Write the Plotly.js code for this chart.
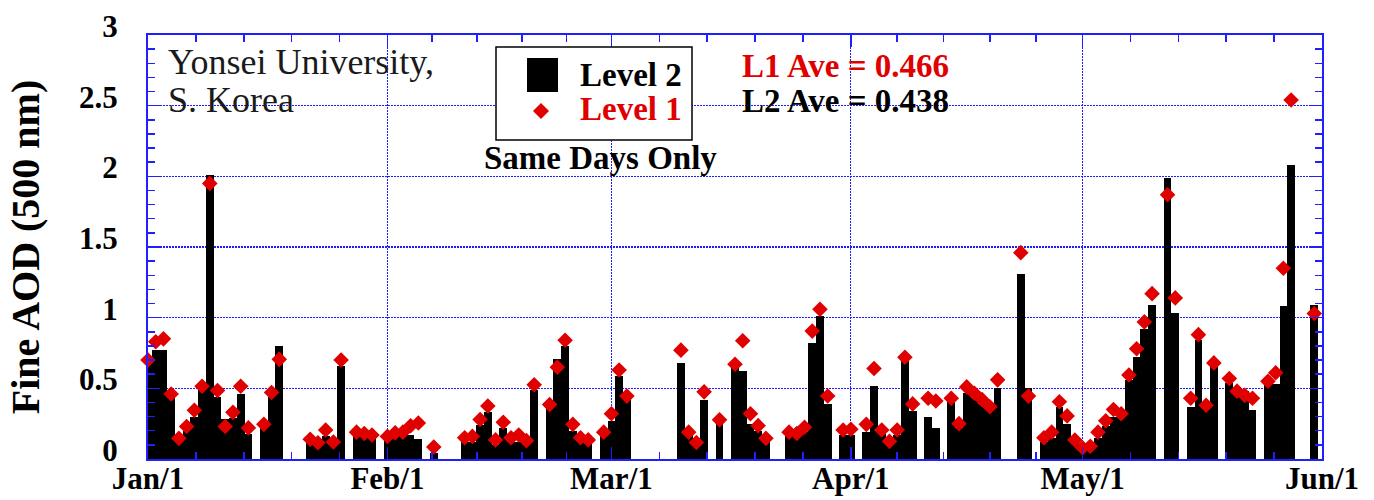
<!DOCTYPE html>
<html>
<head>
<meta charset="utf-8">
<script src="https://cdn.plot.ly/plotly-3.0.1.min.js"></script>
<style>html,body{margin:0;padding:0;background:#fff}</style>
</head>
<body>
<div id="chart" style="width:1374px;height:500px"></div>
<script>
// Daily fine-mode AOD at 500 nm, Yonsei University (2004), days with both levels
const year = '2004';
const dates = [
  '01-01','01-02','01-03','01-04','01-05','01-06','01-07','01-08','01-09','01-10',
  '01-11','01-12','01-13','01-14','01-16','01-17','01-18','01-22','01-23','01-24',
  '01-25','01-26','01-28','01-29','01-30',
  '02-01','02-02','02-03','02-04','02-05','02-07','02-11','02-12','02-13','02-14',
  '02-15','02-16','02-17','02-18','02-19','02-20','02-22','02-23','02-24','02-25',
  '02-26','02-27','02-29',
  '03-01','03-02','03-03','03-10','03-11','03-12','03-13','03-15','03-17','03-18',
  '03-19','03-20','03-21','03-24','03-25','03-26','03-27','03-28','03-29','03-31',
  '04-01','04-03','04-04','04-05','04-06','04-07','04-08','04-09','04-11','04-12',
  '04-14','04-15','04-16','04-17','04-18','04-19','04-20','04-23','04-24','04-26',
  '04-27','04-28','04-29','04-30',
  '05-01','05-02','05-03','05-04','05-05','05-06','05-07','05-08','05-09','05-10',
  '05-12','05-13','05-15','05-16','05-17','05-18','05-20','05-21','05-22','05-23',
  '05-25','05-26','05-27','05-28','05-31'
];
const level2 = [
  0.68,0.77,0.77,0.44,0.13,0.20,0.30,0.49,2.01,0.44,
  0.28,0.29,0.46,0.18,0.23,0.44,0.80,0.11,0.11,0.16,
  0.11,0.66,0.17,0.16,0.16,
  0.15,0.16,0.16,0.17,0.14,0.04,0.12,0.12,0.24,0.33,
  0.10,0.22,0.12,0.12,0.12,0.49,0.37,0.71,0.80,0.20,
  0.15,0.14,0.16,
  0.27,0.59,0.43,0.68,0.17,0.10,0.42,0.25,0.665,0.62,
  0.25,0.20,0.14,0.16,0.16,0.19,0.82,1.01,0.39,0.17,
  0.17,0.19,0.52,0.18,0.11,0.17,0.69,0.34,0.295,0.22,
  0.42,0.22,0.47,0.43,0.39,0.35,0.50,1.31,0.505,0.12,
  0.15,0.37,0.25,0.11,
  0.07,0.07,0.15,0.23,0.30,0.30,0.56,0.72,0.92,1.09,
  1.99,1.035,0.365,0.84,0.36,0.65,0.535,0.49,0.48,0.35,
  0.53,0.53,1.08,2.08,1.09
];
const level1 = [
  0.70,0.83,0.85,0.46,0.146,0.23,0.345,0.515,1.95,0.485,
  0.23,0.33,0.515,0.22,0.245,0.47,0.705,0.14,0.115,0.205,
  0.12,0.70,0.19,0.18,0.17,
  0.16,0.185,0.19,0.235,0.255,0.085,0.15,0.16,0.28,0.375,
  0.135,0.26,0.15,0.17,0.13,0.525,0.385,0.65,0.84,0.245,
  0.15,0.135,0.19,
  0.32,0.63,0.445,0.77,0.19,0.117,0.475,0.277,0.67,0.837,
  0.32,0.236,0.146,0.19,0.18,0.225,0.905,1.06,0.446,0.205,
  0.21,0.245,0.64,0.205,0.125,0.205,0.72,0.39,0.43,0.41,
  0.43,0.25,0.51,0.465,0.42,0.37,0.56,1.46,0.445,0.15,
  0.19,0.405,0.305,0.134,
  0.08,0.09,0.19,0.27,0.35,0.32,0.594,0.78,0.97,1.17,
  1.87,1.14,0.43,0.88,0.38,0.68,0.57,0.48,0.45,0.43,
  0.55,0.61,1.35,2.54,1.03
];
const monthStarts = ['01-01','02-01','03-01','04-01','05-01','06-01'];
const monthLabels = ['Jan/1','Feb/1','Mar/1','Apr/1','May/1','Jun/1'];
const yTickVals = [0, 0.5, 1, 1.5, 2, 2.5, 3];
const yTickText = ['0', '0.5', '1', '1.5', '2', '2.5', '3'];

const DAY = 86400000;
const xDates = dates.map(d => year + '-' + d);
const monthDates = monthStarts.map(d => year + '-' + d);

// four minor ticks splitting each month into fifths
const toMs = s => Date.parse(s + 'T00:00:00Z');
const fmt = ms => new Date(ms).toISOString().replace('T', ' ').replace('Z', '');
const minorX = [];
for (let i = 0; i < monthDates.length - 1; i++) {
  const a = toMs(monthDates[i]), b = toMs(monthDates[i + 1]);
  for (let k = 1; k < 5; k++) minorX.push(fmt(a + k * (b - a) / 5));
}

// plot frame in pixels, used to place the inset texts and key
const W = 1374, H = 500;
const M = {l: 148, r: 52, t: 35, b: 41};
const pw = W - M.l - M.r, ph = H - M.t - M.b;
const px = x => (x - M.l) / pw;
const py = y => (H - M.b - y) / ph;

const BLUE = '#1f1fff';
const GRID = '#1c1cff';
const RED = '#e00000';
const SERIF = 'Liberation Serif, Times New Roman, serif';

const bars = {
  type: 'bar', x: xDates, y: level2, width: DAY,
  marker: {color: '#000', line: {width: 0}},
  hoverinfo: 'x+y', showlegend: false
};
const pts = {
  type: 'scatter', mode: 'markers', x: xDates, y: level1,
  marker: {symbol: 'diamond', size: 12, color: RED, line: {width: 0}},
  cliponaxis: false, showlegend: false
};

const txt = (text, x, y, opts) => Object.assign({
  text, x: px(x), y: py(y), xref: 'paper', yref: 'paper',
  xanchor: 'left', yanchor: 'middle', showarrow: false,
  font: {family: SERIF, size: 33, color: '#000', weight: 'bold'}
}, opts || {});

// red diamond of the key
const dx = 541, dy = 111, dr = 8;
const diamondPath = 'M ' + px(dx - dr) + ' ' + py(dy) + ' L ' + px(dx) + ' ' + py(dy - dr) +
  ' L ' + px(dx + dr) + ' ' + py(dy) + ' L ' + px(dx) + ' ' + py(dy + dr) + ' Z';

const layout = {
  width: W, height: H,
  margin: M,
  paper_bgcolor: '#fff', plot_bgcolor: '#fff',
  bargap: 0,
  font: {family: SERIF, color: '#000'},
  xaxis: {
    type: 'date', range: [monthDates[0], monthDates[monthDates.length - 1]],
    tickmode: 'array', tickvals: monthDates, ticktext: monthLabels,
    ticks: 'inside', ticklen: 12, tickwidth: 1.5, tickcolor: BLUE,
    showline: true, linecolor: BLUE, linewidth: 2, mirror: 'ticks',
    showgrid: true, gridcolor: GRID, gridwidth: 1.2, griddash: '1.5px,1.5px',
    zeroline: false, ticklabelstandoff: -9,
    tickfont: {family: SERIF, size: 31, color: '#000', weight: 'bold'},
    minor: {tickmode: 'array', tickvals: minorX, ticks: 'inside', ticklen: 7,
            tickwidth: 1.5, tickcolor: BLUE, showgrid: false}
  },
  yaxis: {
    range: [0, 3], tickmode: 'array', tickvals: yTickVals, ticktext: yTickText,
    ticks: 'inside', ticklen: 12, tickwidth: 1.5, tickcolor: BLUE,
    showline: true, linecolor: BLUE, linewidth: 2, mirror: 'ticks',
    showgrid: true, gridcolor: GRID, gridwidth: 1.2, griddash: '1.5px,1.5px',
    zeroline: false, ticklabelstandoff: 22, ticklabelshift: -9,
    tickfont: {family: SERIF, size: 31, color: '#000', weight: 'bold'},
    minor: {tickmode: 'linear', tick0: 0, dtick: 0.1, ticks: 'inside', ticklen: 7,
            tickwidth: 1.5, tickcolor: BLUE, showgrid: false},
    title: {text: 'Fine AOD (500 nm)', standoff: 27,
            font: {family: SERIF, size: 40, color: '#000', weight: 'bold'}}
  },
  shapes: [
    {type: 'rect', xref: 'paper', yref: 'paper', layer: 'above',
     x0: px(496), x1: px(692), y0: py(140), y1: py(47),
     line: {color: '#000', width: 1.5}, fillcolor: '#fff'},
    {type: 'rect', xref: 'paper', yref: 'paper', layer: 'above',
     x0: px(527), x1: px(558), y0: py(92), y1: py(58),
     line: {width: 0}, fillcolor: '#000'},
    {type: 'path', xref: 'paper', yref: 'paper', layer: 'above',
     path: diamondPath, line: {width: 0}, fillcolor: RED}
  ],
  annotations: [
    txt('Yonsei University,', 166, 62, {font: {family: SERIF, size: 36, color: '#1a1a1a'}}),
    txt('S. Korea', 166, 100, {font: {family: SERIF, size: 36, color: '#1a1a1a'}}),
    txt('Level 2', 578, 75),
    txt('Level 1', 578, 109, {font: {family: SERIF, size: 33, color: RED, weight: 'bold'}}),
    txt('Same Days Only', 600, 158, {xanchor: 'center'}),
    txt('L1 Ave = 0.466', 740, 66, {font: {family: SERIF, size: 33, color: RED, weight: 'bold'}}),
    txt('L2 Ave = 0.438', 740, 101)
  ]
};

Plotly.newPlot('chart', [bars, pts], layout, {displayModeBar: false, staticPlot: true});
</script>
</body>
</html>
